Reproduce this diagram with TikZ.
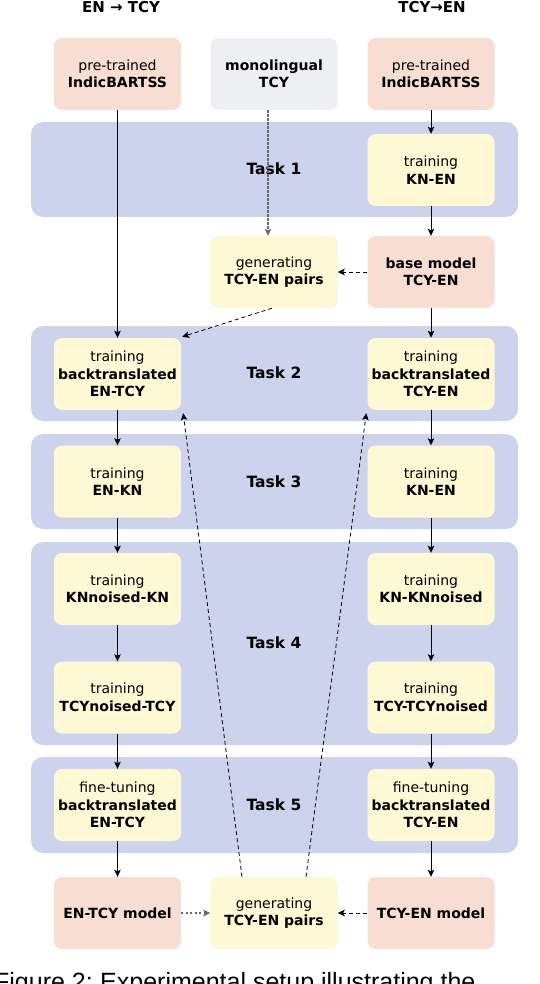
\documentclass[tikz,border=0pt]{standalone}
\usepackage{fontspec}
\setmainfont{DejaVu Sans}
\newfontfamily\capfont{Liberation Sans}
\usetikzlibrary{arrows.meta,calc}
\definecolor{pinkfill}{RGB}{248,222,210}
\definecolor{grayfill}{RGB}{238,239,242}
\definecolor{yellowfill}{RGB}{255,248,213}
\definecolor{bandfill}{RGB}{204,211,236}
\definecolor{dotgray}{RGB}{105,105,105}
\tikzset{
  box/.style={minimum width=127pt, minimum height=72pt, inner sep=0pt, rounded corners=8pt, align=center, font=\fontsize{14}{17.5}\selectfont},
  pinkbox/.style={box, fill=pinkfill},
  graybox/.style={box, fill=grayfill},
  yellowbox/.style={box, fill=yellowfill},
  band/.style={fill=bandfill, rounded corners=12pt},
  tasklabel/.style={font=\fontsize{15.5}{18}\selectfont\bfseries},
  header/.style={font=\fontsize{15}{18}\selectfont\bfseries},
  tip/.style={-{Stealth[length=7pt,width=6.5pt,inset=1.5pt]}},
  solidarrow/.style={tip, draw=black, line width=0.9pt},
  dashedarrow/.style={tip, draw=black, line width=1pt, dash pattern=on 4pt off 3pt},
  thindash/.style={tip, draw=black, line width=0.8pt, dash pattern=on 4pt off 3pt},
  dottedarrow/.style={-{Stealth[length=7pt,width=6.5pt,inset=1.5pt,fill=black]}, draw=dotgray, line width=2.8pt, dash pattern=on 2.5pt off 1.5pt},
  dottedthin/.style={-{Stealth[length=7pt,width=6.5pt,inset=1.5pt,fill=black]}, draw=dotgray, line width=1.8pt, dash pattern=on 2pt off 2.5pt}
}
\begin{document}
\begin{tikzpicture}[x=1pt,y=-1pt]
\useasboundingbox (0,0) rectangle (540,984);
% bands
\fill[band] (31,122) rectangle (518,217);
\fill[band] (31,326) rectangle (518,421);
\fill[band] (31,434) rectangle (518,529);
\fill[band] (31,542) rectangle (518,745);
\fill[band] (31,757) rectangle (518,853);
\node[tasklabel] (task1) at (274,169) {Task 1};
\node[tasklabel] (task2) at (274,373) {Task 2};
\node[tasklabel] (task3) at (274,482) {Task 3};
\node[tasklabel] (task4) at (274,643) {Task 4};
\node[tasklabel] (task5) at (274,805) {Task 5};
% headers
\node[header, anchor=base] (h1) at (121,13) {EN → TCY};
\node[header, anchor=base] (h2) at (432,13) {TCY→EN};
% boxes
\node[pinkbox] (pt1) at (117.5,74) {pre-trained\\\textbf{IndicBARTSS}};
\node[graybox] (mono) at (274,74) {\textbf{monolingual}\\\textbf{TCY}};
\node[pinkbox] (pt2) at (431,74) {pre-trained\\\textbf{IndicBARTSS}};
\node[yellowbox] (kn1) at (431,170) {training\\\textbf{KN-EN}};
\node[pinkbox] (base) at (431,272) {\textbf{base model}\\\textbf{TCY-EN}};
\node[yellowbox] (gen1) at (274,272) {generating\\\textbf{TCY-EN pairs}};
\node[yellowbox] (bt1) at (117.5,374) {training\\\textbf{backtranslated}\\\textbf{EN-TCY}};
\node[yellowbox] (bt2) at (431,374) {training\\\textbf{backtranslated}\\\textbf{TCY-EN}};
\node[yellowbox] (t3a) at (117.5,481.5) {training\\\textbf{EN-KN}};
\node[yellowbox] (t3b) at (431,481.5) {training\\\textbf{KN-EN}};
\node[yellowbox] (t4a1) at (117.5,589) {training\\\textbf{KNnoised-KN}};
\node[yellowbox] (t4b1) at (431,589) {training\\\textbf{KN-KNnoised}};
\node[yellowbox] (t4a2) at (117.5,697.5) {training\\\textbf{TCYnoised-TCY}};
\node[yellowbox] (t4b2) at (431,697.5) {training\\\textbf{TCY-TCYnoised}};
\node[yellowbox] (ft1) at (117.5,805) {fine-tuning\\\textbf{backtranslated}\\\textbf{EN-TCY}};
\node[yellowbox] (ft2) at (431,805) {fine-tuning\\\textbf{backtranslated}\\\textbf{TCY-EN}};
\node[pinkbox] (m1) at (117.5,913) {\textbf{EN-TCY model}};
\node[yellowbox] (gen2) at (274,913) {generating\\\textbf{TCY-EN pairs}};
\node[pinkbox] (m2) at (431,913) {\textbf{TCY-EN model}};
% solid arrows
\draw[solidarrow] (pt1) -- (bt1);
\draw[solidarrow] (bt1) -- (t3a);
\draw[solidarrow] (t3a) -- (t4a1);
\draw[solidarrow] (t4a1) -- (t4a2);
\draw[solidarrow] (t4a2) -- (ft1);
\draw[solidarrow] (ft1) -- (m1);
\draw[solidarrow] (pt2) -- (kn1);
\draw[solidarrow] (kn1) -- (base);
\draw[solidarrow] (base) -- (bt2);
\draw[solidarrow] (bt2) -- (t3b);
\draw[solidarrow] (t3b) -- (t4b1);
\draw[solidarrow] (t4b1) -- (t4b2);
\draw[solidarrow] (t4b2) -- (ft2);
\draw[solidarrow] (ft2) -- (m2);
% dashed / dotted
\draw[dottedarrow] ([xshift=-6pt]mono.south) -- ([xshift=-6pt]gen1.north);
\draw[dashedarrow] (base.west) -- (gen1.east);
\draw[thindash] ([xshift=-2pt]gen1.south) -- ($(bt1.north east)+(1,-1)$);
\draw[thindash] ($(gen2.north)+(-32,0)$) -- ($(bt1.south east)+(2,3)$);
\draw[thindash] ($(gen2.north)+(32,0)$) -- ($(bt2.south west)+(-1,3)$);
\draw[dottedthin] (m1.east) -- (gen2.west);
\draw[dashedarrow] (m2.west) -- (gen2.east);
% caption (cut off at the lower edge, as in the reference)
\begin{scope}
\clip (0,0) rectangle (540,984);
\node[anchor=base west, inner sep=0pt, font=\fontsize{25}{28}\selectfont\capfont] (cap) at (100,990) {Experimental setup illustrating the};
\node[anchor=base east, inner sep=0pt, font=\fontsize{25}{28}\selectfont\capfont] (capfig) at (93,990) {Figure 2:};
\end{scope}
\end{tikzpicture}
\end{document}
